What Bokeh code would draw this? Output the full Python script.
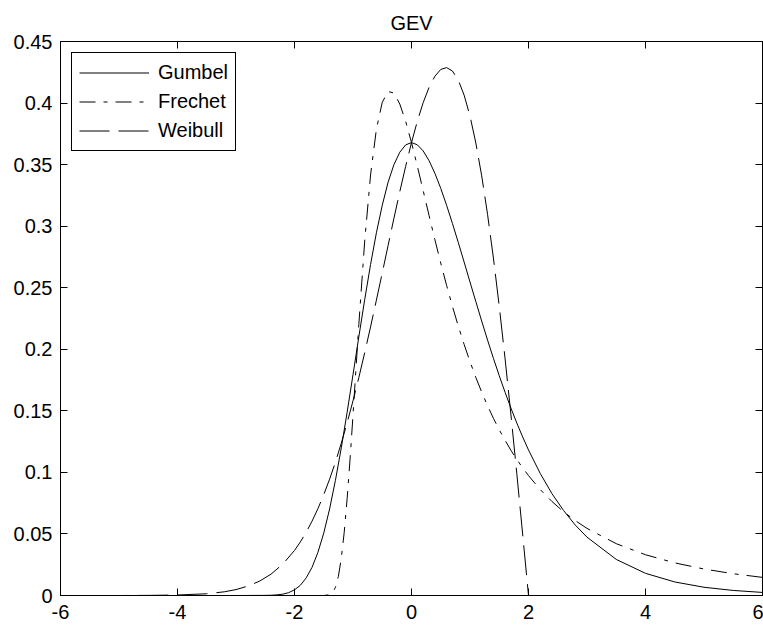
from bokeh.plotting import figure
from bokeh.models import LinearAxis, Range1d, FixedTicker, Legend, LegendItem
from bokeh.embed import file_html
from bokeh.resources import INLINE

# ---- data ----
title_text = "GEV"
x_ticks = [-6, -4, -2, 0, 2, 4, 6]
x_tick_labels = ["-6", "-4", "-2", "0", "2", "4", "6"]
y_ticks = [0, 0.05, 0.1, 0.15, 0.2, 0.25, 0.3, 0.35, 0.4, 0.45]
y_tick_labels = ["0", "0.05", "0.1", "0.15", "0.2", "0.25", "0.3", "0.35", "0.4", "0.45"]

gumbel_x = [-6, -5, -4, -3, -2.5, -2.4, -2.3, -2.2, -2.1, -2.0, -1.9, -1.8, -1.7, -1.6, -1.5,
            -1.4, -1.3, -1.2, -1.1, -1.0, -0.9, -0.8, -0.7, -0.6, -0.5, -0.4, -0.3, -0.2, -0.1,
            0.0, 0.1, 0.2, 0.3, 0.4, 0.5, 0.6, 0.7, 0.8, 0.9, 1.0, 1.1, 1.2, 1.3, 1.4, 1.5, 1.6,
            1.7, 1.8, 1.9, 2.0, 2.2, 2.4, 2.6, 2.8, 3.0, 3.5, 4.0, 4.5, 5.0, 5.5, 6.0]
gumbel_y = [0, 0, 0, 0, 0.0001, 0.0002, 0.0005, 0.0011, 0.0023, 0.0046, 0.0083, 0.0143, 0.0229,
            0.0350, 0.0507, 0.0703, 0.0936, 0.1200, 0.1489, 0.1794, 0.2102, 0.2403, 0.2688,
            0.2946, 0.3170, 0.3357, 0.3500, 0.3601, 0.3660, 0.3679, 0.3661, 0.3611, 0.3532,
            0.3429, 0.3307, 0.3170, 0.3022, 0.2867, 0.2708, 0.2546, 0.2387, 0.2229, 0.2075,
            0.1927, 0.1785, 0.1650, 0.1522, 0.1401, 0.1288, 0.1182, 0.0992, 0.0828, 0.0690,
            0.0572, 0.0474, 0.0293, 0.0180, 0.0110, 0.0067, 0.0041, 0.0025]

frechet_x = [-6, -4, -2, -1.6, -1.5, -1.4, -1.35, -1.3, -1.25, -1.2, -1.15, -1.1, -1.05, -1.0,
             -0.95, -0.9, -0.8, -0.7, -0.6, -0.5, -0.4, -0.3, -0.2, -0.1, 0.0, 0.1, 0.2, 0.3,
             0.4, 0.5, 0.6, 0.7, 0.8, 0.9, 1.0, 1.1, 1.2, 1.3, 1.4, 1.5, 1.6, 1.7, 1.8, 1.9,
             2.0, 2.2, 2.4, 2.6, 2.8, 3.0, 3.5, 4.0, 4.5, 5.0, 5.5, 6.0]
frechet_y = [0, 0, 0, 0, 0.0000, 0.0006, 0.0023, 0.0066, 0.0155, 0.0302, 0.0514, 0.0787, 0.1109,
             0.1465, 0.1836, 0.2204, 0.2879, 0.3415, 0.3788, 0.4006, 0.4094, 0.4081, 0.3992,
             0.3851, 0.3679, 0.3487, 0.3288, 0.3087, 0.2890, 0.2700, 0.2519, 0.2348, 0.2188,
             0.2039, 0.1900, 0.1771, 0.1652, 0.1542, 0.1440, 0.1346, 0.1260, 0.1179, 0.1105,
             0.1037, 0.0974, 0.0861, 0.0764, 0.0680, 0.0608, 0.0545, 0.0421, 0.0331, 0.0265,
             0.0215, 0.0177, 0.0147]

weibull_x = [-6, -5, -4.5, -4, -3.5, -3.2, -3.0, -2.8, -2.6, -2.4, -2.2, -2.0, -1.9, -1.8, -1.7,
             -1.6, -1.5, -1.4, -1.3, -1.2, -1.1, -1.0, -0.9, -0.8, -0.7, -0.6, -0.5, -0.4, -0.3,
             -0.2, -0.1, 0.0, 0.1, 0.2, 0.3, 0.4, 0.5, 0.6, 0.7, 0.8, 0.9, 1.0, 1.1, 1.2, 1.3,
             1.4, 1.5, 1.6, 1.7, 1.8, 1.9, 2.0, 6.0]
weibull_y = [0, 0, 0.0001, 0.0004, 0.0014, 0.0030, 0.0048, 0.0076, 0.0116, 0.0174, 0.0255,
             0.0366, 0.0435, 0.0514, 0.0604, 0.0705, 0.0819, 0.0945, 0.1084, 0.1237, 0.1403,
             0.1581, 0.1771, 0.1972, 0.2182, 0.2399, 0.2620, 0.2843, 0.3065, 0.3280, 0.3486,
             0.3679, 0.3853, 0.4004, 0.4127, 0.4218, 0.4273, 0.4288, 0.4260, 0.4186, 0.4064,
             0.3894, 0.3675, 0.3409, 0.3096, 0.2742, 0.2349, 0.1922, 0.1467, 0.0990, 0.0499,
             0.0, 0.0]

series_names = ["Gumbel", "Frechet", "Weibull"]

FONT = "Liberation Sans"

p = figure(width=763, height=628, output_backend="svg", toolbar_location=None,
           x_range=Range1d(-6, 6), y_range=Range1d(0, 0.45),
           min_border_left=60, min_border_right=1, min_border_top=41, min_border_bottom=33,
           title=title_text)
p.title.align = "center"
p.title.text_font = FONT
p.title.text_font_size = "20px"
p.title.text_font_style = "normal"
p.title.text_color = "black"
p.title.standoff = 16

p.xgrid.visible = False
p.ygrid.visible = False
p.outline_line_color = "black"
p.outline_line_width = 1
p.background_fill_color = "white"
p.border_fill_color = "white"


def style_axis(ax, ticks, labels, show_labels, standoff):
    ax.ticker = FixedTicker(ticks=ticks)
    ax.major_tick_in = 7
    ax.major_tick_out = 0
    ax.minor_tick_in = 0
    ax.minor_tick_out = 0
    ax.axis_line_color = "black"
    ax.major_tick_line_color = "black"
    ax.major_label_text_font = FONT
    ax.major_label_text_color = "black"
    if show_labels:
        ax.major_label_overrides = {t: l for t, l in zip(ticks, labels)}
        ax.major_label_text_font_size = "20px"
        ax.major_label_standoff = standoff
    else:
        ax.major_label_overrides = {t: "" for t in ticks}
        ax.major_label_text_font_size = "1px"
        ax.major_label_standoff = 0


style_axis(p.xaxis[0], x_ticks, x_tick_labels, True, 9)
style_axis(p.yaxis[0], y_ticks, y_tick_labels, True, 8)

top_axis = LinearAxis()
style_axis(top_axis, x_ticks, x_tick_labels, False, 0)
p.add_layout(top_axis, "above")
right_axis = LinearAxis()
style_axis(right_axis, y_ticks, y_tick_labels, False, 0)
p.add_layout(right_axis, "right")

r_g = p.line(gumbel_x, gumbel_y, line_color="black", line_width=1)
r_f = p.line(frechet_x, frechet_y, line_color="black", line_width=1, line_dash="16 8 4 8")
r_w = p.line(weibull_x, weibull_y, line_color="black", line_width=1, line_dash="30 9")

legend = Legend(items=[LegendItem(label=series_names[0], renderers=[r_g]),
                       LegendItem(label=series_names[1], renderers=[r_f]),
                       LegendItem(label=series_names[2], renderers=[r_w])],
                location="top_left")
legend.border_line_color = "black"
legend.border_line_width = 1
legend.border_line_alpha = 1
legend.background_fill_color = "white"
legend.background_fill_alpha = 1
legend.label_text_font = FONT
legend.label_text_font_size = "20px"
legend.label_text_color = "black"
legend.glyph_width = 70
legend.glyph_height = 25
legend.label_height = 25
legend.label_standoff = 9
legend.padding = 7
legend.spacing = 4
legend.margin = 11
p.add_layout(legend)

open("out.html", "w").write(file_html(p, INLINE))
